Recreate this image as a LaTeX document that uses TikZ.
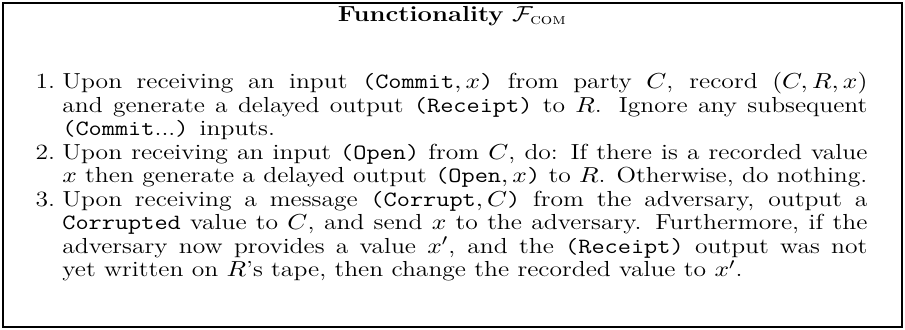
\documentclass[tikz,border=0pt]{standalone}
\usepackage{amsmath}
\usepackage{graphicx}
\newcommand{\bodyfont}{\fontsize{11}{12}\selectfont}
\newlength{\linelen}
\newlength{\maxlen}
% width of the widest line, used for justified lines
\newcommand{\measureline}[1]{\settowidth{\linelen}{\bodyfont #1}%
  \ifdim\linelen>\maxlen\global\maxlen=\linelen\fi}
\newcommand{\fullline}[1]{\scalebox{\hs}[1]{\hbox to \maxlen{\bodyfont #1}}}
\newcommand{\lastline}[1]{\scalebox{\hs}[1]{\hbox to \maxlen{\bodyfont #1\hfil}}}
% the lines of the three clauses
\newcommand{\clA}{Upon receiving an input \texttt{(Commit}$,x$\texttt{)} from party $C$, record $(C,R,x)$}
\newcommand{\clB}{and generate a delayed output \texttt{(Receipt)} to $R$. Ignore any subsequent}
\newcommand{\clC}{\texttt{(Commit}...\texttt{)} inputs.}
\newcommand{\clD}{Upon receiving an input \texttt{(Open)} from $C$, do: If there is a recorded value}
\newcommand{\clE}{$x$ then generate a delayed output \texttt{(Open}$,x$\texttt{)} to $R$. Otherwise, do nothing.}
\newcommand{\clF}{Upon receiving a message \texttt{(Corrupt}$,C$\texttt{)} from the adversary, output a}
\newcommand{\clG}{\texttt{Corrupted} value to $C$, and send $x$ to the adversary. Furthermore, if the}
\newcommand{\clH}{adversary now provides a value $x'$, and the \texttt{(Receipt)} output was not}
\newcommand{\clI}{yet written on $R$'s tape, then change the recorded value to $x'$.}
\AtBeginDocument{%
  \global\maxlen=0pt
  \measureline{\clA}\measureline{\clB}\measureline{\clD}\measureline{\clE}%
  \measureline{\clF}\measureline{\clG}\measureline{\clH}\measureline{\clI}%
  \pgfmathsetmacro{\hs}{406.8/\maxlen}%
  \global\let\hs\hs}
\begin{document}
\begin{tikzpicture}[x=1pt,y=1pt,
  frame/.style={draw=black,line width=1.2pt},
  linetext/.style={anchor=base west,inner sep=0pt},
  itemlabel/.style={anchor=base east,inner sep=0pt}]
\useasboundingbox (0,0) rectangle (457.3,166.7);
\draw[frame] (1.6,1.6) rectangle (455.7,165.1);
\node[anchor=base,inner sep=0pt] (title) at (228.6,156)
  {\scalebox{\hs}[1]{\bodyfont\textbf{Functionality} $\mathcal{F}_{\text{\normalfont\scshape com}}$}};
% clause 1
\node[itemlabel] (l1) at (28,122) {\scalebox{\hs}[1]{\bodyfont 1.}};
\node[linetext] (a1) at (31.3,122) {\fullline{\clA}};
\node[linetext] (a2) at (31.3,110.1) {\fullline{\clB}};
\node[linetext] (a3) at (31.3,98.2)  {\lastline{\clC}};
% clause 2
\node[itemlabel] (l2) at (28,86.3) {\scalebox{\hs}[1]{\bodyfont 2.}};
\node[linetext] (b1) at (31.3,86.3) {\fullline{\clD}};
\node[linetext] (b2) at (31.3,74.4) {\lastline{\clE}};
% clause 3
\node[itemlabel] (l3) at (28,62.5) {\scalebox{\hs}[1]{\bodyfont 3.}};
\node[linetext] (c1) at (31.3,62.5) {\fullline{\clF}};
\node[linetext] (c2) at (31.3,50.6) {\fullline{\clG}};
\node[linetext] (c3) at (31.3,38.7) {\fullline{\clH}};
\node[linetext] (c4) at (31.3,26.8) {\lastline{\clI}};
\end{tikzpicture}
\end{document}
